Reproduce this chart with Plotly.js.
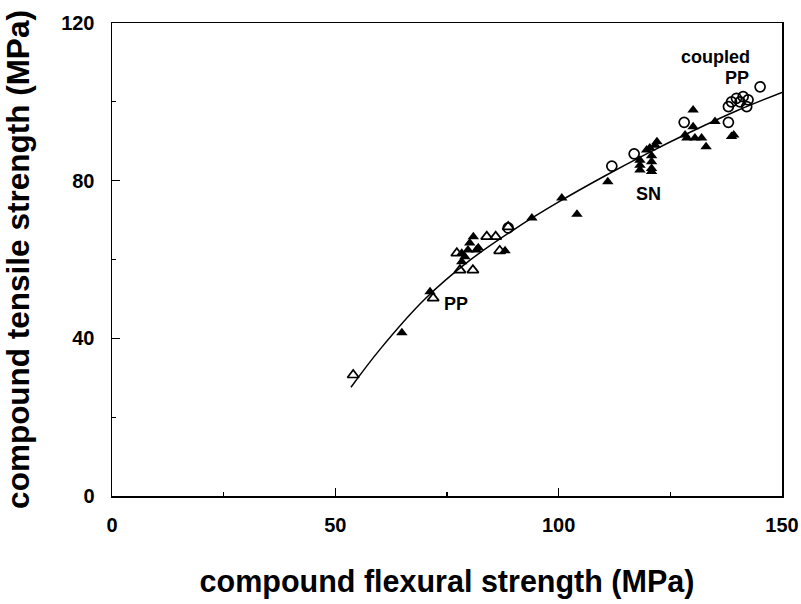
<!DOCTYPE html>
<html>
<head>
<meta charset="utf-8">
<script src="https://cdn.plot.ly/plotly-3.0.1.min.js"></script>
<style>html,body{margin:0;padding:0;background:#fff;}#chart{width:801px;height:604px;}</style>
</head>
<body>
<div id="chart"></div>
<script>
// Filled triangles
const filledX = [64.9, 71.2, 78.3, 78.3, 79.0, 79.7, 80.1, 80.9, 81.6, 82.0, 88.0, 94.0, 100.7, 104.1, 111.0,
  118.2, 118.2, 118.2, 119.7, 120.4, 120.8, 120.8, 120.8, 120.8, 121.6, 122.0,
  128.3, 128.7, 130.1, 130.1, 130.5, 132.0, 133.0, 135.0, 138.7, 139.2];
const filledY = [41.4, 51.8, 59.4, 61.6, 60.7, 62.4, 64.2, 65.8, 62.4, 63.0, 62.2, 70.5, 75.6, 71.5, 79.7,
  85.2, 83.9, 82.7, 87.8, 88.3, 86.3, 84.8, 83.1, 82.3, 89.0, 89.9,
  91.6, 90.8, 97.9, 93.7, 90.8, 90.8, 88.6, 95.0, 91.2, 91.6];
// Open triangles
const openTriX = [54.0, 71.9, 77.2, 77.9, 80.8, 83.9, 85.9, 86.8, 88.7];
const openTriY = [30.7, 50.2, 61.6, 57.3, 57.3, 65.8, 65.8, 62.2, 68.3];
// Open circles (coupled PP)
const circX = [88.7, 111.9, 116.9, 128.1, 138.0, 138.0, 138.7, 139.8, 140.6, 141.3, 142.1, 142.4, 145.1];
const circY = [68.0, 83.7, 86.8, 94.8, 94.8, 98.8, 100.0, 100.9, 100.0, 101.3, 98.8, 100.5, 103.8];
// Fitted curve
const curveX = [53.5, 60, 70, 80, 90, 100, 110, 120, 130, 140, 150];
const curveY = [27.6, 37.2, 49.9, 59.7, 67.6, 74.6, 81.0, 87.0, 92.6, 97.8, 102.4];
// Labels
const labelText = ["PP", "SN", "coupled", "PP"];
const labelX = [77.0, 120.0, 135.0, 139.9];
const labelY = [48.7, 76.6, 111.4, 106.0];
const xTicks = [0, 50, 100, 150];
const yTicks = [0, 40, 80, 120];

const FONT = "Liberation Sans, Arial, sans-serif";

const traces = [
  {x: curveX, y: curveY, mode: 'lines', line: {color: '#000', width: 1.5, shape: 'spline'}, hoverinfo: 'skip'},
  {x: filledX, y: filledY, mode: 'markers', marker: {symbol: 'triangle-up', size: 10, color: '#000'}},
  {x: openTriX, y: openTriY, mode: 'markers', marker: {symbol: 'triangle-up-open', size: 10, color: '#000', line: {width: 1.7}}},
  {x: circX, y: circY, mode: 'markers', marker: {symbol: 'circle-open', size: 10, color: '#000', line: {width: 1.7}}}
];

const annotations = labelText.map((t, i) => ({
  x: labelX[i], y: labelY[i], xref: 'x', yref: 'y', text: t, showarrow: false,
  font: {family: FONT, size: 18, color: '#000', weight: 'bold'}
}));

const layout = {
  width: 801, height: 604,
  margin: {l: 112, r: 19, t: 23, b: 108},
  paper_bgcolor: '#fff', plot_bgcolor: '#fff',
  showlegend: false,
  annotations: annotations,
  xaxis: {
    range: [0, 150], tickvals: xTicks, ticktext: xTicks.map(String),
    ticks: 'inside', ticklen: 8, tickwidth: 1.2, tickcolor: '#000',
    showline: true, mirror: true, linecolor: '#000', linewidth: 1.5,
    showgrid: false, zeroline: false,
    minor: {tickvals: [25, 75, 125], ticks: 'inside', ticklen: 4, tickcolor: '#000', showgrid: false},
    tickfont: {family: FONT, size: 20, color: '#000', weight: 'bold'},
    ticklabelstandoff: 10,
    title: {text: 'compound flexural strength (MPa)', standoff: 36,
      font: {family: FONT, size: 30.5, color: '#000', weight: 'bold'}}
  },
  yaxis: {
    range: [0, 120], tickvals: yTicks, ticktext: yTicks.map(String),
    ticks: 'inside', ticklen: 8, tickwidth: 1.2, tickcolor: '#000',
    showline: true, mirror: true, linecolor: '#000', linewidth: 1.5,
    showgrid: false, zeroline: false,
    minor: {tickvals: [20, 60, 100], ticks: 'inside', ticklen: 4, tickcolor: '#000', showgrid: false},
    tickfont: {family: FONT, size: 20, color: '#000', weight: 'bold'},
    ticklabelstandoff: 12,
    title: {text: 'compound tensile strength (MPa)', standoff: 24,
      font: {family: FONT, size: 31.5, color: '#000', weight: 'bold'}}
  }
};

Plotly.newPlot('chart', traces, layout, {staticPlot: true, displayModeBar: false});
</script>
</body>
</html>
